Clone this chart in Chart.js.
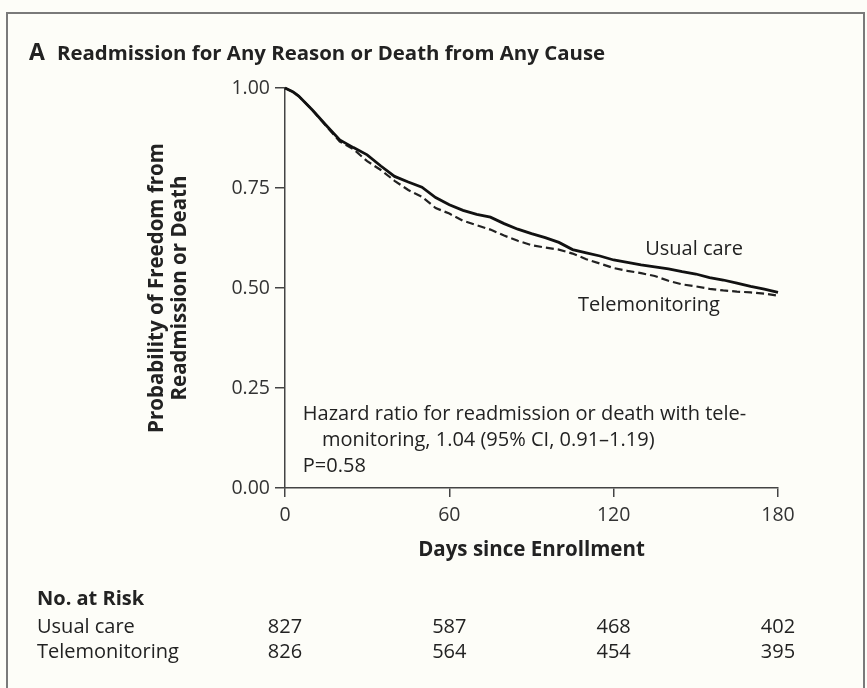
<!DOCTYPE html>
<html>
<head>
<meta charset="utf-8">
<script src="https://cdn.jsdelivr.net/npm/chart.js@4.4.0/dist/chart.umd.min.js"></script>
<style>
  html, body { margin: 0; padding: 0; background: #fdfdf8; }
  #wrap { position: relative; width: 867px; height: 688px; overflow: hidden; font-family: "Open Sans", sans-serif; color: #222; }
  #frame { position: absolute; left: 6px; top: 12px; width: 859px; height: 720px; border: 2px solid #7a7a7a; box-sizing: border-box; }
  canvas { position: absolute; left: 0; top: 0; }
  .txt { position: absolute; white-space: nowrap; font-size: 20px; line-height: 24px; transform: translateY(-50%); }
  .num { transform: translate(-50%, -50%); }
  .bold { font-weight: bold; }
</style>
</head>
<body>
<div id="wrap">
  <div id="frame"></div>
  <canvas id="km" width="867" height="688"></canvas>
  <div class="txt bold" style="left:29px; top:51px; font-size:23px;">A</div>
  <div class="txt bold" style="left:57px; top:52px; font-size:20.4px;">Readmission for Any Reason or Death from Any Cause</div>
  <div id="annot"></div>
  <div id="risk"></div>
</div>
<script>
// days since enrollment
const days = [0, 3, 5, 10, 15, 20, 25, 30, 35, 40, 45, 50, 55, 60, 65, 70, 75, 80, 85, 90,
  95, 100, 105, 110, 115, 120, 125, 130, 135, 140, 145, 150, 155, 160, 165, 170, 175, 180]

const usualCare = [1.000, 0.990, 0.980, 0.945, 0.907, 0.870, 0.851, 0.833, 0.805, 0.779, 0.765, 0.752,
  0.726, 0.708, 0.694, 0.684, 0.677, 0.661, 0.647, 0.636, 0.626, 0.614, 0.596, 0.588, 0.580, 0.570,
  0.564, 0.558, 0.553, 0.548, 0.541, 0.535, 0.526, 0.520, 0.512, 0.504, 0.497, 0.489]

const telemonitoring = [1.000, 0.990, 0.980, 0.945, 0.905, 0.866, 0.847, 0.817, 0.795, 0.768, 0.745, 0.728,
  0.700, 0.686, 0.668, 0.657, 0.646, 0.631, 0.618, 0.607, 0.601, 0.596, 0.586, 0.572, 0.561, 0.550,
  0.543, 0.537, 0.530, 0.518, 0.509, 0.504, 0.498, 0.494, 0.491, 0.489, 0.486, 0.481]

const xTicks = [0, 60, 120, 180]
const yTicks = [0, 0.25, 0.5, 0.75, 1]

const riskGroups = ['Usual care', 'Telemonitoring']
const riskUsual = [827, 587, 468, 402]
const riskTele = [826, 564, 454, 395]

const hazardText = ['Hazard ratio for readmission or death with tele-', 'monitoring, 1.04 (95% CI, 0.91\u20131.19)', 'P=0.58']

const tickFont = { family: 'Open Sans', size: 19.5 }
const titleFont = { family: 'Open Sans', size: 20.5, weight: 'bold', lineHeight: 1.1 }

const toPoints = (ys) => days.map((d, i) => ({ x: d, y: ys[i] }))

const chart = new Chart(document.getElementById('km').getContext('2d'), {
  type: 'line',
  data: {
    datasets: [
      {
        label: 'Usual care',
        data: toPoints(usualCare),
        borderColor: '#111',
        borderWidth: 2.8,
        pointRadius: 0,
        tension: 0,
        clip: 6
      },
      {
        label: 'Telemonitoring',
        data: toPoints(telemonitoring),
        borderColor: '#222',
        borderWidth: 2.2,
        borderDash: [8, 4],
        pointRadius: 0,
        tension: 0,
        clip: 6
      }
    ]
  },
  options: {
    responsive: false,
    animation: false,
    layout: { padding: { left: 146, top: 88, right: 89, bottom: 127 } },
    plugins: { legend: { display: false }, tooltip: { enabled: false } },
    scales: {
      x: {
        type: 'linear',
        min: 0,
        max: 180,
        afterBuildTicks: (s) => { s.ticks = xTicks.map(v => ({ value: v })) },
        ticks: { color: '#333', font: tickFont, padding: 7, maxRotation: 0 },
        grid: { drawOnChartArea: false, tickLength: 9, color: '#444', lineWidth: 1.5 },
        border: { color: '#444', width: 1.5 },
        title: { display: true, text: 'Days since Enrollment', color: '#222', font: titleFont, padding: 0 },
        afterFit: (s) => { s.height = 73 }
      },
      y: {
        min: 0,
        max: 1,
        afterBuildTicks: (s) => { s.ticks = yTicks.map(v => ({ value: v })) },
        ticks: { color: '#333', font: tickFont, padding: 5, callback: (v) => v.toFixed(2) },
        grid: { drawOnChartArea: false, tickLength: 10, color: '#444', lineWidth: 1.5 },
        border: { color: '#444', width: 1.5 },
        title: {
          display: true,
          text: ['Probability of Freedom from', 'Readmission or Death'],
          color: '#222',
          font: titleFont,
          padding: 0
        },
        afterFit: (s) => { s.width = 139 }
      }
    }
  }
})

// text overlays placed through the chart's own scales
const sx = chart.scales.x
const sy = chart.scales.y

function addText(parent, text, left, top, cls, extra) {
  const el = document.createElement('div')
  el.className = 'txt ' + (cls || '')
  el.textContent = text
  el.style.left = left + 'px'
  el.style.top = top + 'px'
  if (extra) Object.assign(el.style, extra)
  parent.appendChild(el)
}

const annot = document.getElementById('annot')
addText(annot, 'Usual care', sx.getPixelForValue(131.5), sy.getPixelForValue(0.60))
addText(annot, 'Telemonitoring', sx.getPixelForValue(107), sy.getPixelForValue(0.46))
addText(annot, hazardText[0], sx.getPixelForValue(6.5), sy.getPixelForValue(0.187))
addText(annot, hazardText[1], sx.getPixelForValue(13.5), sy.getPixelForValue(0.122))
addText(annot, hazardText[2], sx.getPixelForValue(6.5), sy.getPixelForValue(0.058))

const risk = document.getElementById('risk')
addText(risk, 'No. at Risk', 37, 598, 'bold')
const rows = [riskUsual, riskTele]
riskGroups.forEach((g, r) => {
  const y = 626 + r * 25
  addText(risk, g, 37, y)
  rows[r].forEach((n, i) => addText(risk, String(n), sx.getPixelForValue(xTicks[i]), y, 'num'))
})
</script>
</body>
</html>
